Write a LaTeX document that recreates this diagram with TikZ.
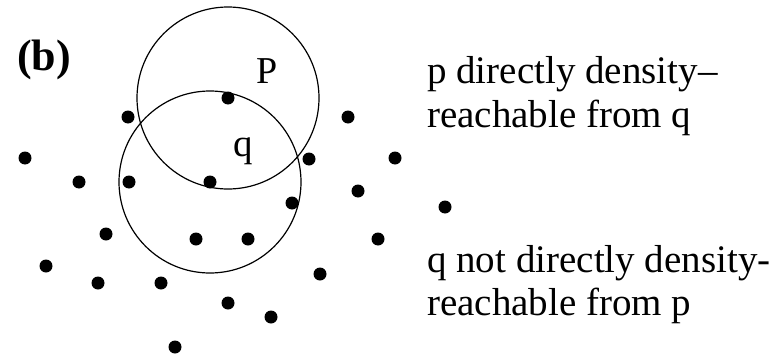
\documentclass[tikz,border=0pt]{standalone}
\usepackage{fontspec}
\setmainfont{Liberation Serif}
\usepackage{tikz}

\tikzset{
    pt/.style={circle, fill=black, draw=none, inner sep=0pt, minimum size=13pt},
    rng/.style={line width=1.2pt},
    capt/.style={anchor=base west, inner sep=0pt, font=\fontsize{39}{44}\selectfont},
}

\begin{document}
\begin{tikzpicture}[x=1pt, y=-1pt]
    \useasboundingbox (0, 0) rectangle (780, 359);
    \node[anchor=base west, inner sep=0pt, font=\fontsize{44}{48}\selectfont\bfseries] (tag) at (17, 70) {(b)};
    % the two neighbourhoods
    \node[pt] (p) at (228, 98) {};
    \node[pt] (q) at (210, 182) {};
    \draw[rng] (p) circle[radius=91pt];
    \draw[rng] (q) circle[radius=91pt];
    \node[anchor=base, inner sep=0pt, font=\fontsize{38}{40}\selectfont] (plab) at (267, 83) {P};
    \node[anchor=base, inner sep=0pt, font=\fontsize{39}{40}\selectfont] (qlab) at (243, 156) {q};
    % the other points
    \foreach \px/\py [count=\i] in {128/117, 348/117, 25/158, 309/159, 395/158, 79/182,
        129/182, 358/191, 292/203, 106/234, 196/239, 248/239, 378/239, 46/266, 98/283,
        161/283, 320/274, 228/303, 271/317, 175/347, 445/207}
        \node[pt] (d\i) at (\px, \py) {};
    % captions
    \node[capt] (c1) at (427, 83) {p directly density\textendash};
    \node[capt] (c2) at (427, 127) {reachable from q};
    \node[capt] (c3) at (427, 272) {q not directly density-};
    \node[capt] (c4) at (427, 315) {reachable from p};
\end{tikzpicture}
\end{document}
